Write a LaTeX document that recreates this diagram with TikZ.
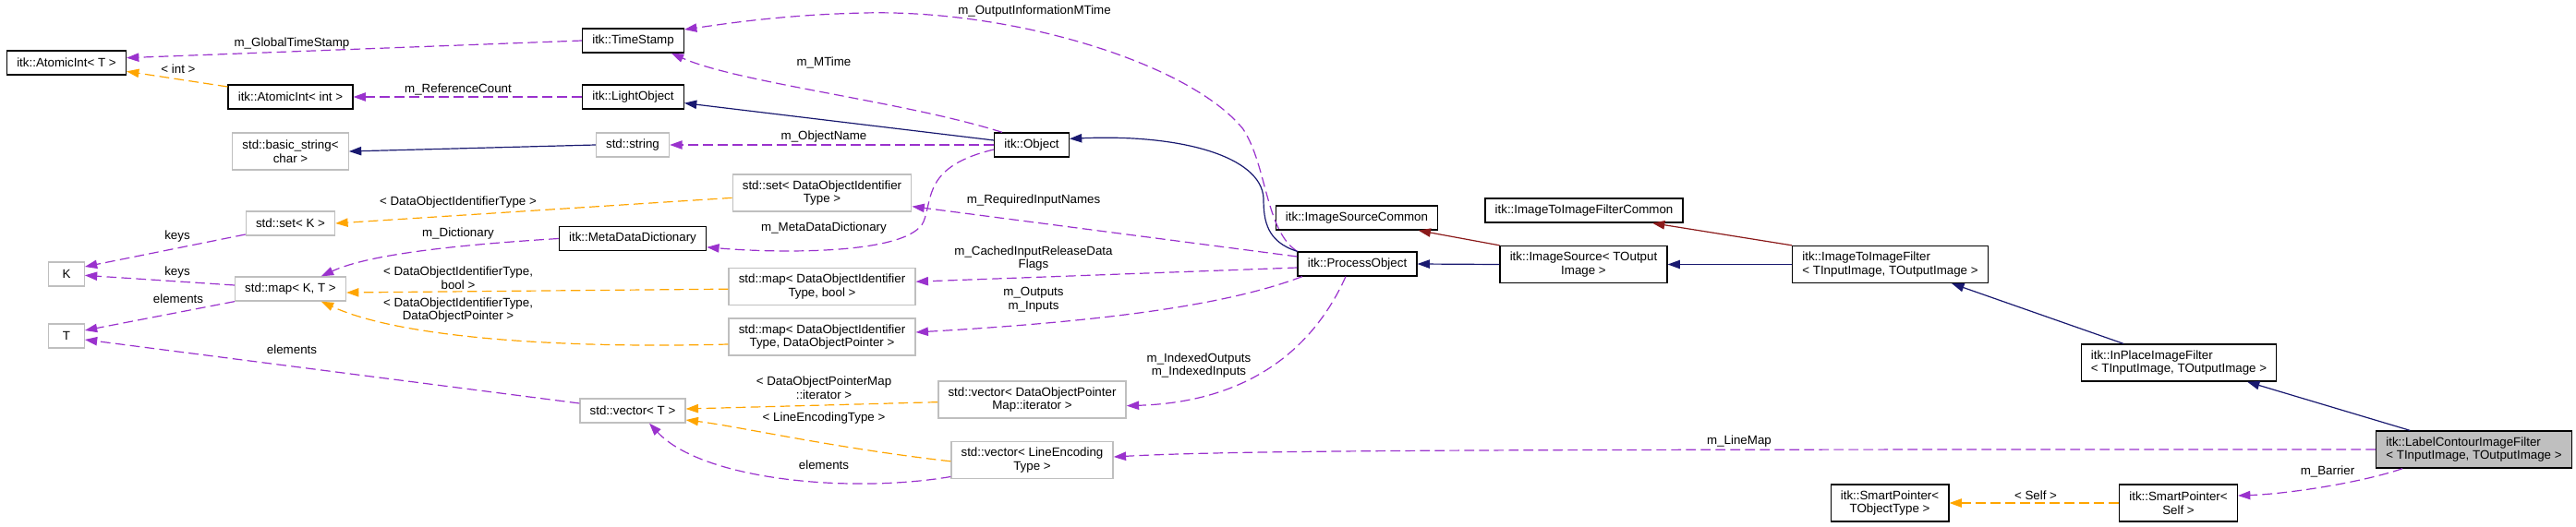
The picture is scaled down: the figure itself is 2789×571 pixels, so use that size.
\documentclass[tikz,border=0pt]{standalone}
\usepackage{fontspec}
\setmainfont{Liberation Sans}
\usetikzlibrary{arrows.meta}
\definecolor{dxblue}{HTML}{191970}
\definecolor{dxred}{HTML}{8B1A1A}
\definecolor{dxpurple}{HTML}{9A32CD}
\definecolor{dxorange}{HTML}{FFA500}
\definecolor{dxgrey}{HTML}{BFBFBF}

\begin{document}
\begin{tikzpicture}[x=0.75pt, y=-0.75pt,
  cls/.style={draw=black, line width=1pt, fill=white, inner xsep=8pt, inner ysep=2pt, minimum width=28.8pt, minimum height=19.5pt, align=center, font=\fontsize{10}{11}\selectfont},
  ext/.style={cls, draw=dxgrey},
  cur/.style={cls, fill=dxgrey},
  tall/.style={minimum height=30pt},
  lbl/.style={inner sep=0pt, align=center, font=\fontsize{10}{11}\selectfont},
  inh/.style={draw=dxblue, line width=0.9pt, -{Triangle[length=10pt,width=7pt]}},
  priv/.style={draw=dxred, line width=0.9pt, -{Triangle[length=10pt,width=7pt]}},
  use/.style={draw=dxpurple, line width=0.9pt, dash pattern=on 8pt off 4pt, -{Triangle[length=10pt,width=7pt]}},
  tmpl/.style={draw=dxorange, line width=0.9pt, dash pattern=on 8pt off 4pt, -{Triangle[length=10pt,width=7pt]}}]
  \useasboundingbox (0,0) rectangle (2789,571);

  \node[cls] (atomicT) at (72,68) {itk::AtomicInt< T >};
  \node[cls] (atomicInt) at (314.5,105) {itk::AtomicInt< int >};
  \node[cls] (timeStamp) at (685.5,44) {itk::TimeStamp};
  \node[cls] (lightObj) at (685.5,105) {itk::LightObject};
  \node[ext, tall] (basicStr) at (314.5,164) {std::basic\_string<\\char >};
  \node[ext] (stdString) at (685,157) {std::string};
  \node[cls] (object) at (1117,157) {itk::Object};
  \node[ext] (setK) at (314.5,242) {std::set< K >};
  \node[ext, tall] (setId) at (890,209) {std::set< DataObjectIdentifier\\Type >};
  \node[cls] (metaDict) at (685,258.5) {itk::MetaDataDictionary};
  \node[ext] (nodeK) at (72,297) {K};
  \node[ext] (mapKT) at (314.5,313) {std::map< K, T >};
  \node[ext] (nodeT) at (72,364) {T};
  \node[ext] (vecT) at (685,445) {std::vector< T >};
  \node[ext, tall] (mapBool) at (890,310.5) {std::map< DataObjectIdentifier\\Type, bool >};
  \node[ext, tall] (mapPtr) at (890,365) {std::map< DataObjectIdentifier\\Type, DataObjectPointer >};
  \node[ext, tall] (vecIter) at (1117.5,433) {std::vector< DataObjectPointer\\Map::iterator >};
  \node[ext, tall] (vecLine) at (1117.5,498.5) {std::vector< LineEncoding\\Type >};
  \node[cls] (srcCommon) at (1469,236) {itk::ImageSourceCommon};
  \node[cls] (filtCommon) at (1715,228) {itk::ImageToImageFilterCommon};
  \node[cls] (procObj) at (1469.5,286) {itk::ProcessObject};
  \node[cls, tall] (imgSource) at (1714.5,286.5) {itk::ImageSource< TOutput\\Image >};
  \node[cls, tall, align=left] (imgFilter) at (2046.5,286.5) {itk::ImageToImageFilter\\< TInputImage, TOutputImage >};
  \node[cls, tall, align=left] (inPlace) at (2359,393) {itk::InPlaceImageFilter\\< TInputImage, TOutputImage >};
  \node[cur, tall, align=left] (labelContour) at (2678.5,487) {itk::LabelContourImageFilter\\< TInputImage, TOutputImage >};
  \node[cls, tall] (spSelf) at (2358.5,545) {itk::SmartPointer<\\Self >};
  \node[cls, tall] (spObj) at (2046,545) {itk::SmartPointer<\\TObjectType >};

  \draw[use] (timeStamp.west) -- ([yshift=4pt]atomicT.east);
  \draw[tmpl] ([yshift=-2pt]atomicInt.north west) -- ([yshift=-7pt]atomicT.east);
  \draw[use] (lightObj.west) -- (atomicInt.east);
  \draw[inh] (stdString.west) -- (basicStr.east);
  \draw[use] ([xshift=-24pt]object.north) .. controls (980,110) and (800,90) .. ([xshift=31pt]timeStamp.south);
  \draw[use] (procObj.north west) .. controls (1370,250) and (1372,180) .. (1346,140) .. controls (1290,70) and (1100,10) .. (935,14) .. controls (850,16) and (790,25) .. ([yshift=9pt]timeStamp.east);
  \draw[inh] ([yshift=3.75pt]object.west) -- ([yshift=-5pt]lightObj.east);
  \draw[use] (object.west) -- (stdString.east);
  \draw[use] ([yshift=-3.75pt]object.west) .. controls (1000,180) and (1010,215) .. (1000,240) .. controls (985,275) and (850,275) .. ([yshift=-7pt]metaDict.east);
  \draw[inh] (procObj.north west) .. controls (1372,262) and (1368,240) .. (1368,215) .. controls (1366,170) and (1280,145) .. ([yshift=5pt]object.east);
  \draw[use] ([yshift=6pt]procObj.west) -- ([yshift=-11pt]setId.east);
  \draw[use] ([yshift=-3pt]procObj.west) -- ([yshift=4pt]mapBool.east);
  \draw[use] ([xshift=4pt]procObj.south west) .. controls (1330,330) and (1200,348) .. ([yshift=3.75pt]mapPtr.east);
  \draw[use] ([xshift=-9.4pt]procObj.south) .. controls (1430,360) and (1370,435) .. ([yshift=-5pt]vecIter.east);
  \draw[tmpl] ([yshift=-4pt]setId.west) -- (setK.east);
  \draw[tmpl] ([yshift=-2pt]mapBool.west) -- ([yshift=-3pt]mapKT.east);
  \draw[tmpl] ([yshift=-6pt]mapPtr.west) .. controls (600,378) and (430,365) .. ([xshift=25pt]mapKT.south);
  \draw[use] (metaDict.west) .. controls (500,265) and (400,275) .. ([xshift=25pt]mapKT.north);
  \draw[use] ([yshift=-9pt]setK.west) -- ([yshift=6pt]nodeK.east);
  \draw[use] ([yshift=3pt]mapKT.west) -- ([yshift=-1pt]nodeK.east);
  \draw[use] (mapKT.south west) -- ([yshift=4.5pt]nodeT.east);
  \draw[use] ([yshift=6pt]vecT.west) -- ([yshift=-3pt]nodeT.east);
  \draw[tmpl] ([yshift=-2pt]vecIter.west) -- ([yshift=1.5pt]vecT.east);
  \draw[tmpl] ([yshift=-1pt]vecLine.west) .. controls (900,485) and (800,462) .. ([yshift=-7.5pt]vecT.east);
  \draw[use] ([yshift=2pt]vecLine.south west) .. controls (920,535) and (760,520) .. ([xshift=13.5pt]vecT.south);
  \draw[priv] (imgSource.north west) -- ([xshift=50pt]srcCommon.south);
  \draw[priv] (imgFilter.north west) -- ([xshift=55.5pt]filtCommon.south);
  \draw[inh] (imgSource.west) -- (procObj.east);
  \draw[inh] (imgFilter.west) -- (imgSource.east);
  \draw[inh] ([xshift=-45pt]inPlace.north) -- ([xshift=50pt]imgFilter.south);
  \draw[inh] ([xshift=-52pt]labelContour.north) -- ([xshift=55.5pt]inPlace.south);
  \draw[use] (labelContour.west) .. controls (1700,487) and (1350,487) .. ([yshift=2.6pt]vecLine.east);
  \draw[use] ([xshift=-58pt]labelContour.south) .. controls (2560,522) and (2480,535) .. ([yshift=6pt]spSelf.east);
  \draw[tmpl] (spSelf.west) -- (spObj.east);

  \node[lbl] (lGlobal) at (316,47) {m\_GlobalTimeStamp};
  \node[lbl] (lInt) at (193,75) {< int >};
  \node[lbl] (lRefCount) at (496,97) {m\_ReferenceCount};
  \node[lbl] (lMTime) at (892,68) {m\_MTime};
  \node[lbl] (lOutInfo) at (1120,12) {m\_OutputInformationMTime};
  \node[lbl] (lObjName) at (892,148) {m\_ObjectName};
  \node[lbl] (lIdType) at (496,219) {< DataObjectIdentifierType >};
  \node[lbl] (lReqNames) at (1119,217) {m\_RequiredInputNames};
  \node[lbl] (lMetaDict) at (892,247) {m\_MetaDataDictionary};
  \node[lbl] (lDict) at (496,253) {m\_Dictionary};
  \node[lbl] (lKeysA) at (192,256) {keys};
  \node[lbl] (lCached) at (1119,280) {m\_CachedInputReleaseData\\Flags};
  \node[lbl] (lKeysB) at (192,295) {keys};
  \node[lbl] (lIdBool) at (496,301.5) {< DataObjectIdentifierType,\\bool >};
  \node[lbl] (lElemA) at (193,324) {elements};
  \node[lbl] (lInOut) at (1119,324.5) {m\_Outputs\\m\_Inputs};
  \node[lbl] (lIdPtr) at (496,336) {< DataObjectIdentifierType,\\DataObjectPointer >};
  \node[lbl] (lElemB) at (316,379) {elements};
  \node[lbl] (lIndexed) at (1298,396) {m\_IndexedOutputs\\m\_IndexedInputs};
  \node[lbl] (lIter) at (892,420) {< DataObjectPointerMap\\::iterator >};
  \node[lbl] (lLineEnc) at (892,453) {< LineEncodingType >};
  \node[lbl] (lLineMap) at (1883,478) {m\_LineMap};
  \node[lbl] (lElemC) at (892,504) {elements};
  \node[lbl] (lBarrier) at (2520,511) {m\_Barrier};
  \node[lbl] (lSelf) at (2204,537) {< Self >};
\end{tikzpicture}
\end{document}
